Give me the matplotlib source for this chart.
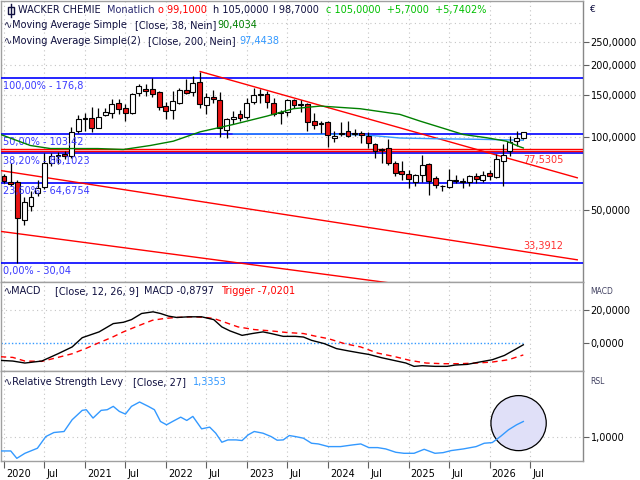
import matplotlib
matplotlib.use("Agg")
import matplotlib.pyplot as plt
import matplotlib.transforms as mtrans
from matplotlib.patches import Ellipse, Rectangle
from matplotlib.lines import Line2D

plt.rcParams['font.family'] = ['DejaVu Sans']

# monthly candles, month 0 = Jan 2020
opens = [68.9, 65.0, 65.5, 45.2, 51.6, 58.7, 62.0, 78.0, 83.5, 85.0, 84.0, 106.0,
         119.0, 121.0, 110.0, 123.6, 126.9, 139.7, 132.2, 126.0, 152.8, 159.9, 158.7, 154.7,
         135.3, 130.2, 139.7, 157.3, 154.7, 171.0, 136.1, 147.5, 142.8, 107.0, 118.9, 124.8,
         122.1, 140.5, 150.0, 151.3, 139.7, 126.0, 127.6, 142.8, 137.0, 137.4, 117.0, 114.0,
         116.3, 99.7, 104.5, 106.3, 103.0, 104.6, 101.3, 93.5, 89.3, 90.5, 78.4, 72.3,
         70.7, 65.3, 69.6, 77.8, 67.9, 63.0, 62.2, 66.0, 66.1, 65.0, 69.3, 66.3,
         71.1, 68.2, 79.6, 88.2, 96.5, 99.1]
highs = [70.5, 78.6, 66.7, 56.5, 59.6, 66.7, 86.0, 86.3, 87.0, 88.0, 111.0, 124.0,
         127.0, 133.5, 133.0, 133.0, 144.2, 145.0, 137.4, 153.8, 166.6, 166.6, 176.4, 155.8,
         140.5, 156.0, 161.2, 176.0, 181.0, 188.3, 153.8, 157.8, 154.7, 121.0, 128.9, 130.0,
         146.6, 160.5, 158.7, 156.2, 146.6, 130.2, 144.2, 144.0, 142.8, 139.7, 126.9, 117.0,
         117.0, 106.3, 115.9, 117.0, 108.7, 106.3, 105.0, 95.0, 90.5, 98.1, 79.6, 79.6,
         73.5, 70.5, 84.9, 78.4, 68.9, 63.6, 74.2, 70.0, 67.9, 70.0, 71.1, 72.3,
         73.5, 85.0, 93.5, 101.3, 106.3, 105.0]
lows = [64.8, 62.5, 30.04, 43.2, 49.2, 56.8, 61.0, 76.0, 77.5, 81.0, 82.5, 104.0,
        106.0, 105.0, 109.8, 122.8, 120.9, 124.8, 117.0, 124.8, 148.8, 148.8, 147.0, 130.0,
        119.7, 118.9, 137.4, 151.3, 148.8, 133.0, 124.8, 139.7, 100.7, 99.5, 113.3, 117.0,
        119.0, 137.4, 139.7, 133.0, 123.0, 113.3, 122.8, 133.0, 127.6, 106.3, 108.7, 104.6,
        91.4, 95.6, 101.3, 100.0, 101.3, 95.0, 90.0, 82.2, 78.4, 77.1, 68.9, 66.3,
        61.6, 62.5, 65.3, 57.3, 61.6, 59.8, 61.6, 64.6, 61.6, 62.5, 64.6, 65.0,
        66.7, 67.9, 62.5, 83.5, 92.0, 98.7]
closes = [65.6, 64.2, 46.3, 54.0, 56.7, 61.5, 78.0, 83.5, 84.5, 84.0, 105.0, 119.0,
          120.0, 110.0, 122.0, 127.6, 138.4, 131.8, 126.0, 152.3, 163.9, 156.2, 152.5, 133.5,
          128.9, 141.9, 157.3, 153.8, 168.4, 138.4, 148.0, 144.2, 109.8, 118.9, 122.1, 120.3,
          139.7, 149.8, 151.3, 140.5, 125.5, 127.6, 142.8, 136.3, 138.4, 116.3, 113.0, 115.2,
          102.2, 101.9, 103.5, 101.9, 104.0, 102.2, 94.4, 87.6, 88.4, 78.4, 71.1, 70.7,
          67.2, 70.0, 77.1, 66.1, 63.2, 62.5, 66.7, 66.3, 65.0, 69.3, 67.2, 70.0,
          68.9, 81.5, 84.9, 95.6, 99.3, 105.0]

# moving averages
ma38_m = [-0.5, 3.9, 6.9, 13.9, 17.7, 21.7, 25.1, 29.1, 34.0, 39.0, 42.9, 46.9,
          52.8, 58.7, 61.7, 65.7, 68.1, 71.6, 74.5, 76.5, 77]
ma38 = [102.9, 92.6, 89.9, 89.9, 89.1, 92.6, 96.5, 105.6, 113.3, 122.8, 131.8, 135.2,
        131.8, 124.8, 117.0, 108.0, 102.9, 99.7, 96.5, 91.4, 90.4034]
ma200_m = [34, 40, 46, 50, 54, 58.7, 64, 70, 77]
ma200 = [103.5, 103.4, 103.3, 103.0, 102.2, 99.5, 98.8, 98.3, 97.4438]

# fibonacci retracement
fib_pct = ["100,00%", "50,00%", "38,20%", "23,60%", "0,00%"]
fib_val = [176.8, 103.42, 86.1023, 64.6754, 30.04]
fib_txt = ["176,8", "103,42", "86,1023", "64,6754", "30,04"]
red_levels = [89.2, 87.8]

# trend / channel lines (month, price)
trend_m = [29.1, 85.0]
trend_v = [188.3, 67.9]
chan_mid_m = [-0.52, 85.0]
chan_mid_v = [72.8, 30.9]
chan_low_m = [-0.52, 85.0]
chan_low_v = [40.6, 19.5]
trend_label = "77,5305"
chan_label = "33,3912"

# MACD
macd_m = [-0.5, 1.3, 3.1, 5.6, 8.0, 10.1, 11.6, 14.1, 16.2, 17.7, 18.9, 20.4, 22.1, 23.2,
          24.4, 25.6, 27.4, 29.3, 31.1, 32.3, 33.5, 35.3, 36.8, 38.4, 39.6, 41.4, 43.2,
          44.4, 45.6, 47.5, 49.3, 51.1, 52.9, 54.1, 56.0, 57.8, 59.6, 60.8, 62.0, 63.9,
          65.7, 66.9, 68.7, 70.5, 72.4, 74.2, 76.0, 77.0]
macd = [-10.3, -10.7, -11.9, -10.7, -6.3, -2.2, 3.4, 6.9, 11.9, 12.7, 14.3, 18.0, 19.0, 18.0,
        16.4, 15.6, 16.0, 16.0, 14.3, 9.9, 7.5, 4.8, 5.9, 6.9, 5.9, 4.2, 4.2,
        3.8, 1.8, -0.2, -3.2, -4.6, -5.9, -6.7, -8.7, -10.3, -11.9, -13.9, -13.5, -13.9,
        -13.9, -13.1, -12.7, -11.3, -9.9, -7.3, -3.2, -0.8797]
trig_m = [-0.5, 1.3, 3.1, 5.6, 8.0, 10.1, 12.2, 14.1, 15.9, 17.7, 19.5, 22.0, 23.8, 25.6,
          28.0, 29.9, 31.1, 32.6, 34.7, 37.1, 39.6, 42.0, 44.4, 46.3, 48.1, 50.5, 52.9,
          55.4, 57.8, 60.2, 62.6, 65.1, 67.5, 70.0, 72.4, 74.8, 77.0]
trig = [-8.1, -8.5, -10.7, -10.9, -8.5, -6.3, -3.0, 0.4, 3.4, 6.9, 9.9, 13.9, 15.0, 15.6,
        16.0, 15.6, 15.0, 12.9, 9.9, 8.3, 7.5, 6.5, 5.9, 4.2, 2.8, -0.2, -2.2,
        -5.9, -7.9, -10.3, -11.9, -12.3, -12.3, -11.9, -11.3, -9.9, -7.0201]

# Relative Strength Levy
rsl_m = [-0.52, 1.0, 1.9, 3.1, 4.95, 6.2, 7.4, 8.9, 10.1, 11.6, 12.2, 13.2, 14.4, 15.3,
         16.2, 17.1, 18.0, 18.9, 20.1, 21.4, 22.3, 23.2, 24.1, 25.0, 26.2, 27.1, 28.0,
         29.3, 30.5, 31.4, 32.3, 33.2, 34.4, 35.3, 36.2, 37.1, 38.4, 39.6, 40.5, 41.4,
         42.3, 43.2, 44.4, 45.6, 46.6, 48.1, 49.9, 51.7, 52.9, 54.1, 55.4, 56.6, 58.1,
         59.3, 60.8, 62.3, 63.9, 65.1, 66.3, 68.1, 70.0, 71.2, 72.4, 73.6, 74.8, 76.0, 77.0]
rsl = [0.693, 0.693, 0.532, 0.642, 0.752, 1.007, 1.095, 1.117, 1.373, 1.578, 1.592, 1.41,
       1.578, 1.592, 1.665, 1.555, 1.497, 1.665, 1.76, 1.665, 1.592, 1.336, 1.263, 1.336,
       1.43, 1.358, 1.446, 1.175, 1.212, 1.08, 0.883, 0.934, 0.934, 0.92, 1.044, 1.117,
       1.08, 1.007, 0.927, 0.934, 1.029, 1.007, 0.971, 0.861, 0.846, 0.788, 0.788, 0.825,
       0.846, 0.766, 0.766, 0.737, 0.664, 0.642, 0.642, 0.729, 0.642, 0.656, 0.701, 0.737,
       0.788, 0.861, 0.876, 1.007, 1.154, 1.263, 1.3353]

xtick_m = list(range(0, 79, 6))
xtick_lbl = ["2020", "Jul", "2021", "Jul", "2022", "Jul", "2023", "Jul",
             "2024", "Jul", "2025", "Jul", "2026", "Jul"]

W, H = 640, 480
XMIN, XMAX = -0.52, 85.85
GRID = dict(color='#c4c4c4', lw=0.8, ls=(0, (1, 3)), zorder=0)
BLUE = '#3399ff'
NAVY = '#101040'


def rect(x0, y0, x1, y1):
    return [x0 / W, 1 - y1 / H, (x1 - x0) / W, (y1 - y0) / H]


def fmt(v):
    return f"{v:.4f}".replace('.', ',')


def ftext(x, y, s, color=NAVY, size=7, **kw):
    fig.text(x / W, 1 - y / H, s, color=color, fontsize=size, va='center', ha='left', **kw)


fig = plt.figure(figsize=(6.4, 4.8), dpi=100)
ax = fig.add_axes(rect(0.5, 1, 583, 282))
ax_macd = fig.add_axes(rect(0.5, 282, 583, 370.5))
ax_rsl = fig.add_axes(rect(0.5, 370.5, 583, 461))

for a in (ax, ax_macd, ax_rsl):
    a.set_xlim(XMIN, XMAX)
    for s in a.spines.values():
        s.set_color('#a0a0a0')
        s.set_linewidth(1)
    a.spines['right'].set_color('#888888')
    a.yaxis.tick_right()
    a.tick_params(axis='y', direction='out', length=4, width=0.8, color='#606060',
                  labelsize=7, pad=1.5)
    a.set_xticks(xtick_m)
    for t in xtick_m:
        a.axvline(t, **GRID)

ax.tick_params(axis='x', length=0, labelbottom=False)
ax_macd.tick_params(axis='x', length=0, labelbottom=False)

# ---- price panel
ax.set_yscale('log')
ax.set_ylim(24.97, 370.7)
yt = [50, 100, 150, 200, 250]
ax.set_yticks(yt)
ax.set_yticklabels([fmt(v) for v in yt])
ax.minorticks_off()
for v in yt + [300]:
    ax.axhline(v, **GRID)

months = list(range(len(opens)))
up = [c >= o for o, c in zip(opens, closes)]
ax.vlines(months, lows, highs, color='black', lw=0.9, zorder=4)
ax.bar(months, [abs(c - o) for o, c in zip(opens, closes)],
       bottom=[min(o, c) for o, c in zip(opens, closes)], width=0.72,
       color=['white' if u else '#e81414' for u in up], edgecolor='black', lw=0.8, zorder=5)

for lv, pct, txt in zip(fib_val, fib_pct, fib_txt):
    ax.axhline(lv, color='#0000ff', lw=1.2, zorder=3)
    ax.annotate(f"{pct} - {txt}", (0, lv), xycoords=('axes fraction', 'data'),
                xytext=(1.5, -2), textcoords='offset points', va='top', ha='left',
                color='#3a3aff', fontsize=7, zorder=6)
for lv in red_levels:
    ax.axhline(lv, color='#ff0000', lw=1.0, zorder=3)

ax.plot(trend_m, trend_v, color='#ff0000', lw=1, zorder=3)
ax.plot(chan_mid_m, chan_mid_v, color='#ff0000', lw=1, zorder=3)
ax.plot(chan_low_m, chan_low_v, color='#ff0000', lw=1, zorder=3)
ax.annotate(trend_label, (77, 78.7), xytext=(0, -1.5), textcoords='offset points',
            va='bottom', ha='left', color='#ff3030', fontsize=7, zorder=6)
ax.annotate(chan_label, (77, 33.5), xytext=(0, 0.5), textcoords='offset points',
            va='bottom', ha='left', color='#ff3030', fontsize=7, zorder=6)

ax.plot(ma38_m, ma38, color='#008000', lw=1, zorder=6)
ax.plot(ma200_m, ma200, color=BLUE, lw=1, zorder=3)

# ---- MACD panel
ax_macd.set_ylim(-16.4, 37.0)
ax_macd.set_yticks([0, 20])
ax_macd.set_yticklabels([fmt(0), fmt(20)])
ax_macd.axhline(20, **GRID)
ax_macd.hlines(0, XMIN, macd_m[-1], color=BLUE, lw=1, ls=(0, (1, 1.5)), zorder=1)
ax_macd.plot(trig_m, trig, color='#ff0000', lw=1, ls=(0, (4, 3)), zorder=3)
ax_macd.plot(macd_m, macd, color='black', lw=1, zorder=4)

# ---- RSL panel
ax_rsl.set_ylim(0.474, 2.447)
ax_rsl.set_yticks([1.0])
ax_rsl.set_yticklabels([fmt(1.0)])
ax_rsl.axhline(1.0, **GRID)
ax_rsl.add_patch(Ellipse((76.3, 1.30), 8.2, 1.2, facecolor='#e0e0f8',
                         edgecolor='black', lw=0.9, zorder=2))
ax_rsl.plot(rsl_m, rsl, color=BLUE, lw=1, zorder=3)
ax_rsl.set_xticklabels(xtick_lbl)
ax_rsl.tick_params(axis='x', direction='out', length=5, width=0.8, color='#606060',
                   labelsize=7, pad=1)
off = mtrans.ScaledTranslation(1.5 / 72, 0, fig.dpi_scale_trans)
for lbl in ax_rsl.get_xticklabels():
    lbl.set_ha('left')
    lbl.set_transform(lbl.get_transform() + off)

# ---- header texts
fig.add_artist(Line2D([11 / W, 11 / W], [1 - 4 / H, 1 - 17 / H], color=NAVY, lw=1,
                      transform=fig.transFigure))
fig.add_artist(Rectangle((8 / W, 1 - 14 / H), 6 / W, 7 / H, facecolor='white',
                         edgecolor=NAVY, lw=1, transform=fig.transFigure))
ftext(18, 10, "WACKER CHEMIE")
ftext(107, 10, "Monatlich", color='#2a2a70')
ftext(158, 10, "o 99,1000", color='#ff0000')
ftext(213, 10, "h 105,0000")
ftext(273, 10, "l 98,7000")
ftext(326, 10, "c 105,0000  +5,7000  +5,7402%", color='#00c000')

ftext(4, 25, "\u223fMoving Average Simple")
ftext(135, 25, "[Close, 38, Nein]")
ftext(217, 25, "90,4034", color='#008000')
ftext(4, 41, "\u223fMoving Average Simple(2)")
ftext(148, 41, "[Close, 200, Nein]")
ftext(239, 41, "97,4438", color=BLUE)

ftext(4, 291, "\u223fMACD")
ftext(55, 291, "[Close, 12, 26, 9]")
ftext(144, 291, "MACD -0,8797")
ftext(221, 291, "Trigger -7,0201", color='#ff0000')

ftext(4, 382, "\u223fRelative Strength Levy")
ftext(133, 382, "[Close, 27]")
ftext(193, 382, "1,3353", color=BLUE)

ftext(590, 10, "\u20ac", size=6.5)
ftext(590, 292, "MACD", size=5.5, color='#404060')
ftext(590, 382, "RSL", size=5.5, color='#404060')

fig.savefig("out.png", dpi=100)
